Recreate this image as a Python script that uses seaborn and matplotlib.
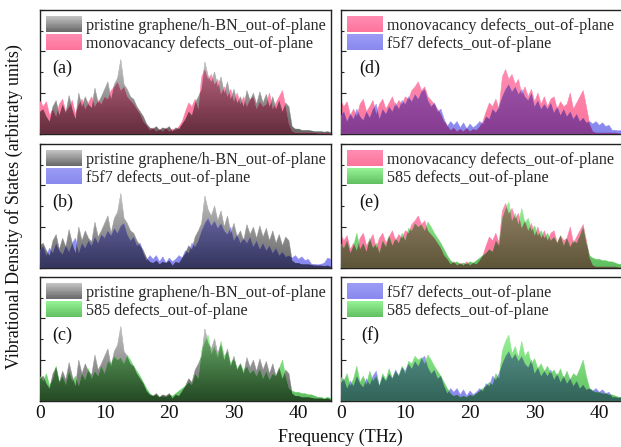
import numpy as np
import matplotlib
matplotlib.use('Agg')
import matplotlib.pyplot as plt
import seaborn as sns
from matplotlib.patches import Rectangle
from matplotlib.legend_handler import HandlerBase
from matplotlib.ticker import MultipleLocator

# frequency grid (THz), 0.5 THz step
freq = np.arange(0, 45.01, 0.5)

# out-of-plane VDOS (axis height = 1)
pristine = [0.18, 0.20, 0.14, 0.10, 0.22, 0.27, 0.15, 0.24, 0.17, 0.31,
            0.20, 0.12, 0.33, 0.22, 0.30, 0.24, 0.21, 0.37, 0.25, 0.30,
            0.36, 0.42, 0.28, 0.40, 0.45, 0.60, 0.40, 0.36, 0.30, 0.28,
            0.22, 0.18, 0.14, 0.08, 0.05, 0.04, 0.06, 0.03, 0.05, 0.04,
            0.06, 0.02, 0.05, 0.04, 0.08, 0.12, 0.18, 0.15, 0.25, 0.30,
            0.36, 0.58, 0.47, 0.42, 0.50, 0.38, 0.46, 0.33, 0.42, 0.28,
            0.36, 0.25, 0.30, 0.22, 0.35, 0.27, 0.33, 0.24, 0.34, 0.25,
            0.32, 0.22, 0.30, 0.20, 0.27, 0.18, 0.25, 0.22, 0.06, 0.04,
            0.04, 0.03, 0.03, 0.03, 0.025, 0.02, 0.02, 0.02, 0.015, 0.02,
            0.01]
monovacancy = [0.27, 0.22, 0.26, 0.15, 0.20, 0.14, 0.24, 0.28, 0.18, 0.22,
               0.27, 0.16, 0.24, 0.28, 0.20, 0.25, 0.30, 0.22, 0.27, 0.24,
               0.30, 0.28, 0.35, 0.38, 0.42, 0.35, 0.38, 0.30, 0.27, 0.24,
               0.20, 0.16, 0.10, 0.07, 0.03, 0.05, 0.02, 0.04, 0.02, 0.05,
               0.02, 0.04, 0.03, 0.06, 0.10, 0.18, 0.25, 0.22, 0.28, 0.20,
               0.46, 0.52, 0.44, 0.48, 0.40, 0.44, 0.32, 0.38, 0.30, 0.36,
               0.26, 0.33, 0.24, 0.30, 0.22, 0.28, 0.30, 0.20, 0.26, 0.22,
               0.24, 0.33, 0.20, 0.25, 0.30, 0.35, 0.22, 0.08, 0.02, 0.01,
               0.01, 0.01, 0.01, 0.01, 0.01, 0.01, 0.005, 0.005, 0.005, 0.005,
               0.005]
f5f7 = [0.14, 0.18, 0.10, 0.16, 0.12, 0.20, 0.14, 0.11, 0.18, 0.13,
        0.20, 0.24, 0.12, 0.20, 0.16, 0.22, 0.18, 0.25, 0.20, 0.27,
        0.24, 0.30, 0.26, 0.32, 0.28, 0.34, 0.36, 0.27, 0.22, 0.25,
        0.18, 0.20, 0.12, 0.06, 0.10, 0.07, 0.10, 0.05, 0.09, 0.04,
        0.08, 0.05, 0.07, 0.10, 0.08, 0.14, 0.12, 0.20, 0.17, 0.22,
        0.30, 0.36, 0.40, 0.34, 0.38, 0.32, 0.36, 0.30, 0.27, 0.33,
        0.22, 0.27, 0.20, 0.24, 0.20, 0.25, 0.17, 0.22, 0.15, 0.20,
        0.14, 0.18, 0.12, 0.16, 0.10, 0.13, 0.09, 0.10, 0.08, 0.10,
        0.07, 0.09, 0.06, 0.07, 0.03, 0.03, 0.025, 0.03, 0.04, 0.08,
        0.07]
d585 = [0.20, 0.16, 0.22, 0.12, 0.18, 0.28, 0.15, 0.20, 0.13, 0.24,
        0.16, 0.20, 0.12, 0.22, 0.17, 0.26, 0.18, 0.24, 0.20, 0.28,
        0.22, 0.32, 0.30, 0.36, 0.33, 0.35, 0.30, 0.37, 0.33, 0.28,
        0.24, 0.20, 0.15, 0.10, 0.06, 0.04, 0.05, 0.03, 0.04, 0.03,
        0.05, 0.04, 0.06, 0.08, 0.10, 0.12, 0.15, 0.13, 0.22, 0.18,
        0.40, 0.48, 0.53, 0.38, 0.44, 0.35, 0.48, 0.36, 0.40, 0.30,
        0.34, 0.26, 0.30, 0.24, 0.28, 0.22, 0.25, 0.20, 0.26, 0.18,
        0.24, 0.17, 0.22, 0.20, 0.26, 0.33, 0.20, 0.10, 0.08, 0.07,
        0.07, 0.06, 0.06, 0.05, 0.05, 0.04, 0.03, 0.03, 0.02, 0.03,
        0.02]

series = {
    'pristine': (pristine, 'pristine graphene/h-BN_out-of-plane'),
    'mono': (monovacancy, 'monovacancy defects_out-of-plane'),
    'f5f7': (f5f7, 'f5f7 defects_out-of-plane'),
    '585': (d585, '585 defects_out-of-plane'),
}

# (bottom colour, top colour) of each gradient fill
grad = {
    'pristine': ((100, 100, 100), (195, 195, 195)),
    'mono': ((252, 115, 155), (255, 140, 178)),
    'f5f7': ((135, 135, 238), (155, 155, 245)),
    '585': ((95, 190, 95), (150, 242, 150)),
}

panels = [('pristine', 'mono', '(a)'), ('pristine', 'f5f7', '(b)'),
          ('pristine', '585', '(c)'), ('mono', 'f5f7', '(d)'),
          ('mono', '585', '(e)'), ('f5f7', '585', '(f)')]

XMAX = 45


def grad_rgb(name, ys, top):
    bot, tp = np.array(grad[name][0], float), np.array(grad[name][1], float)
    t = np.clip(ys / top, 0, 1)[:, None]
    return (bot + (tp - bot) * t) / 255.0


def clipped_fill(ax, xf, yf, rgb, z):
    poly = ax.fill_between(xf, 0, yf, facecolor='none', edgecolor='none', zorder=z)
    img = np.repeat(rgb[:, None, :], 2, axis=1)
    im = ax.imshow(img, extent=[0, XMAX, 0, 1], origin='lower', aspect='auto',
                   interpolation='bilinear', zorder=z)
    im.set_clip_path(poly.get_paths()[0], transform=ax.transData)


class GradHandler(HandlerBase):
    def __init__(self, name):
        super().__init__()
        self.name = name

    def create_artists(self, legend, orig_handle, xdescent, ydescent, width, height, fontsize, trans):
        n = 20
        ts = (np.arange(n) + 0.5) / n
        cols = grad_rgb(self.name, ts, 1.0)
        arts = []
        for i in range(n):
            r = Rectangle((-xdescent, -ydescent + height * i / n), width, height / n * 1.08,
                          facecolor=cols[i], edgecolor='none', transform=trans)
            arts.append(r)
        return arts


sns.set_theme(style='ticks')
plt.rcParams['font.family'] = ['Liberation Serif', 'DejaVu Serif']
plt.rcParams['axes.linewidth'] = 1.0

fig = plt.figure(figsize=(6.21, 4.47), dpi=100)
lefts = [40 / 621, 340.7 / 621]
bottoms = [0.7002, 0.4004, 0.1029]
w, h = 291 / 621, 124 / 447

xf = np.linspace(0, XMAX, 2251)
ys = np.linspace(0, 1, 300)

for k, (a, b, tag) in enumerate(panels):
    col, row = divmod(k, 3)
    ax = fig.add_axes([lefts[col], bottoms[row], w, h])
    ya = np.interp(xf, freq, series[a][0])
    yb = np.interp(xf, freq, series[b][0])
    ta, tb = max(series[a][0]), max(series[b][0])
    ca = grad_rgb(a, ys, ta)
    cb = grad_rgb(b, ys, tb)
    sns.lineplot(x=freq, y=series[a][0], ax=ax, color=ca[int(ta * 200)], lw=0.4, zorder=1)
    sns.lineplot(x=freq, y=series[b][0], ax=ax, color=cb[int(tb * 200)], lw=0.4, zorder=1)
    clipped_fill(ax, xf, ya, ca, 2)
    clipped_fill(ax, xf, yb, cb, 3)
    # overlapping region: colours multiply
    clipped_fill(ax, xf, np.minimum(ya, yb), ca * cb, 4)

    ax.set_xlim(0, XMAX)
    ax.set_ylim(0, 1)
    ax.xaxis.set_major_locator(MultipleLocator(10))
    ax.xaxis.set_minor_locator(MultipleLocator(5))
    ax.yaxis.set_major_locator(MultipleLocator(1 / 3))
    ax.yaxis.set_minor_locator(MultipleLocator(1 / 6))
    ax.tick_params(which='both', direction='in', color='#222222', width=0.8)
    ax.tick_params(which='major', length=3.5)
    ax.tick_params(which='minor', length=2)
    ax.tick_params(axis='y', labelleft=False)
    ax.tick_params(axis='x', labelsize=14, pad=3, labelcolor='#111111',
                   labelbottom=(row == 2))
    for s in ax.spines.values():
        s.set_color('#222222')
        s.set_visible(True)

    handles = [Rectangle((0, 0), 1, 1, label=series[a][1]),
               Rectangle((0, 0), 1, 1, label=series[b][1])]
    ax.legend(handles=handles, loc='upper left', frameon=False, fontsize=11.6,
              handlelength=2.2, handleheight=1.15, handletextpad=0.25,
              labelspacing=0.02, borderpad=0.2, borderaxespad=0.2,
              handler_map={handles[0]: GradHandler(a), handles[1]: GradHandler(b)})
    ax.text(0.077 if col == 0 else 0.1, 0.53, tag, transform=ax.transAxes,
            ha='center', va='center', fontsize=13, color='#111111')

fig.text(14 / 621, 1 - 207 / 447, 'Vibrational Density of States (arbitraty units)',
         rotation=90, ha='center', va='center', fontsize=13, color='#111111')
fig.text(340 / 621, 1 - 437 / 447, 'Frequency (THz)', ha='center', va='center',
         fontsize=13, color='#111111')

fig.savefig('out.png', dpi=100)
